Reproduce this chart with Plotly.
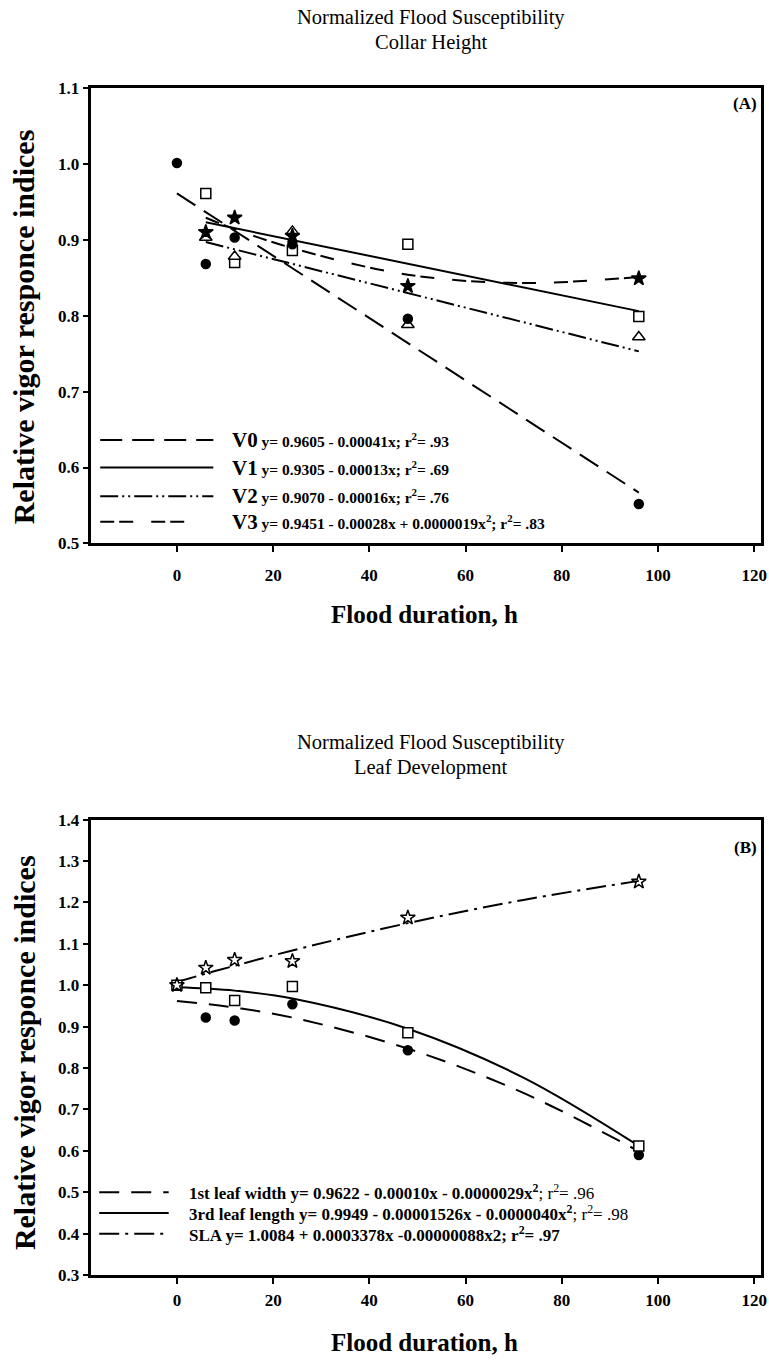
import plotly.graph_objects as go

W, H = 769, 1367
FONT = "Liberation Serif"

# ---------------- Panel A: collar height ----------------
hours_a0 = [0, 6, 12, 24, 48, 96]
hours_a = [6, 12, 24, 48, 96]
v0_obs = [1.001, 0.868, 0.903, 0.894, 0.796, 0.552]
v1_obs = [0.961, 0.870, 0.886, 0.894, 0.799]
v2_obs = [0.903, 0.878, 0.911, 0.788, 0.772]
v3_obs = [0.910, 0.929, 0.905, 0.839, 0.849]

v0_fit_x = [0, 96]
v0_fit_y = [0.961, 0.567]
v1_fit_x = [6, 96]
v1_fit_y = [0.923, 0.806]
v2_fit_x = [6, 96]
v2_fit_y = [0.897, 0.753]
v3_fit_x = [6, 12, 24, 48, 72, 96]
v3_fit_y = [0.929, 0.914, 0.889, 0.854, 0.843, 0.851]

# ---------------- Panel B: leaf development ----------------
hours_b = [0, 6, 12, 24, 48, 96]
leaf1_width = [1.000, 0.922, 0.915, 0.954, 0.843, 0.590]
leaf3_length = [1.000, 0.994, 0.963, 0.997, 0.885, 0.612]
sla = [1.000, 1.042, 1.061, 1.058, 1.163, 1.250]

fit_b_x = [0, 6, 12, 24, 48, 72, 96]
leaf1_fit = [0.962, 0.955, 0.946, 0.922, 0.847, 0.740, 0.599]
leaf3_fit = [0.995, 0.992, 0.987, 0.968, 0.895, 0.777, 0.612]
sla_fit = [1.008, 1.028, 1.047, 1.084, 1.150, 1.206, 1.252]

x_ticks = [0, 20, 40, 60, 80, 100, 120]
y_ticks_a = [0.5, 0.6, 0.7, 0.8, 0.9, 1.0, 1.1]
y_ticks_b = [0.3, 0.4, 0.5, 0.6, 0.7, 0.8, 0.9, 1.0, 1.1, 1.2, 1.3, 1.4]

DASH_V0 = "22px,10px"
DASH_V2 = "18px,4px,2px,4px,2px,4px"
DASH_V3 = "14px,5px,14px,18px"
DASH_L1 = "20px,12px"
DASH_SLA = "20px,6px,3px,6px"


def px(x):
    return x / W


def py(y):
    return 1 - y / H


fig = go.Figure()


def line(xs, ys, dash, xa, ya, shape="linear"):
    fig.add_trace(go.Scatter(
        x=xs, y=ys, mode="lines", xaxis=xa, yaxis=ya,
        line=dict(color="black", width=2, dash=dash, shape=shape),
        hoverinfo="skip", showlegend=False))


def points(xs, ys, symbol, size, fill, xa, ya):
    fig.add_trace(go.Scatter(
        x=xs, y=ys, mode="markers", xaxis=xa, yaxis=ya,
        marker=dict(symbol=symbol, size=size, color=fill,
                    line=dict(color="black", width=1.5)),
        showlegend=False))


# Panel A curves and observations
line(v0_fit_x, v0_fit_y, DASH_V0, "x", "y")
line(v1_fit_x, v1_fit_y, "solid", "x", "y")
line(v2_fit_x, v2_fit_y, DASH_V2, "x", "y")
line(v3_fit_x, v3_fit_y, DASH_V3, "x", "y", shape="spline")
points(hours_a, v1_obs, "square", 10, "white", "x", "y")
points(hours_a, v2_obs, "triangle-up", 11, "white", "x", "y")
points(hours_a0, v0_obs, "circle", 9, "black", "x", "y")
points(hours_a, v3_obs, "star", 11, "black", "x", "y")

# Panel B curves and observations
line(fit_b_x, leaf1_fit, DASH_L1, "x2", "y2", shape="spline")
line(fit_b_x, leaf3_fit, "solid", "x2", "y2", shape="spline")
line(fit_b_x, sla_fit, DASH_SLA, "x2", "y2", shape="spline")
points(hours_b, leaf1_width, "circle", 9, "black", "x2", "y2")
points(hours_b, leaf3_length, "square", 10, "white", "x2", "y2")
points(hours_b, sla, "star", 11, "rgba(0,0,0,0)", "x2", "y2")

xdom = [px(92), px(767)]
axis_common = dict(
    showgrid=False, zeroline=False, showline=True, linecolor="black",
    linewidth=2.5, mirror=True, ticks="outside", ticklen=6, tickwidth=1.5,
    tickcolor="black", ticklabeloverflow="allow",
    tickfont=dict(family=FONT, size=17, color="black"),
)
xr = [-17.8, 121.4]


def bold(vals, fmt):
    return [f"<b>{v:{fmt}}</b>" for v in vals]


fig.update_layout(
    width=W, height=H, margin=dict(l=0, r=0, t=0, b=0),
    paper_bgcolor="white", plot_bgcolor="white",
    xaxis=dict(domain=xdom, range=xr, tickvals=x_ticks,
               ticktext=bold(x_ticks, "d"), anchor="y",
               ticklabelstandoff=8, **axis_common),
    yaxis=dict(domain=[py(542), py(80)], range=[0.5, 1.1],
               tickvals=y_ticks_a, ticktext=bold(y_ticks_a, ".1f"),
               anchor="x", **axis_common),
    xaxis2=dict(domain=xdom, range=xr, tickvals=x_ticks,
                ticktext=bold(x_ticks, "d"), anchor="y2",
                ticklabelstandoff=2, **axis_common),
    yaxis2=dict(domain=[py(1284), py(822)], range=[0.3, 1.4],
                tickvals=y_ticks_b, ticktext=bold(y_ticks_b, ".1f"),
                anchor="x2", **axis_common),
)

ann = []


def text(x, y, s, size, xanchor="center", yanchor="middle", angle=0):
    ann.append(dict(x=px(x), y=py(y), xref="paper", yref="paper", text=s,
                    showarrow=False, xanchor=xanchor, yanchor=yanchor,
                    textangle=angle,
                    font=dict(family=FONT, size=size, color="black")))


# titles
text(434, 9, "Normalized Flood Susceptibility", 20.5)
text(434, 34, "Collar Height", 20.5)
text(434, 744, "Normalized Flood Susceptibility", 20.5)
text(434, 769, "Leaf Development", 20.5)

# axis titles
text(428, 614, "<b>Flood duration, h</b>", 25)
text(428, 1352, "<b>Flood duration, h</b>", 25)
text(24, 322, "<b>Relative vigor responce indices</b>", 30, angle=-90)
text(24, 1058, "<b>Relative vigor responce indices</b>", 30, angle=-90)

# panel letters
text(765, 96, "<b>(A)</b>", 17, xanchor="right")
text(765, 850, "<b>(B)</b>", 17, xanchor="right")

# legend, panel A
leg_a = [
    (437, DASH_V0, 215, "V0", "y= 0.9605 - 0.00041x; r<sup>2</sup>= .93"),
    (465, "solid", 215, "V1", "y= 0.9305 - 0.00013x; r<sup>2</sup>= .69"),
    (494, DASH_V2, 215, "V2", "y= 0.9070 - 0.00016x; r<sup>2</sup>= .76"),
    (520, DASH_V3, 201, "V3",
     "y= 0.9451 - 0.00028x + 0.0000019x<sup>2</sup>; r<sup>2</sup>= .83"),
]
shapes = []
for y, dash, x1, name, eq in leg_a:
    shapes.append(dict(type="line", xref="paper", yref="paper",
                       x0=px(101), x1=px(x1), y0=py(y), y1=py(y),
                       line=dict(color="black", width=2, dash=dash)))
    text(232, y,
         f"<b><span style='font-size:21px'>{name}</span> {eq}</b>", 15.5,
         xanchor="left")

# legend, panel B
leg_b = [
    (1200, DASH_L1,
     "<b>1st leaf width y= 0.9622 - 0.00010x - 0.0000029x<sup>2</sup></b>; "
     "r<sup>2</sup>= .96"),
    (1221, "solid",
     "<b>3rd leaf length y= 0.9949 - 0.00001526x - 0.0000040x<sup>2</sup></b>; "
     "r<sup>2</sup>= .98"),
    (1242, DASH_SLA,
     "<b>SLA y= 1.0084 + 0.0003378x -0.00000088x2; r<sup>2</sup>= .97</b>"),
]
for y, dash, s in leg_b:
    shapes.append(dict(type="line", xref="paper", yref="paper",
                       x0=px(100), x1=px(170), y0=py(y), y1=py(y),
                       line=dict(color="black", width=2, dash=dash)))
    text(188, y, s, 17, xanchor="left")

fig.update_layout(annotations=ann, shapes=shapes)
fig.write_html("out.html")
